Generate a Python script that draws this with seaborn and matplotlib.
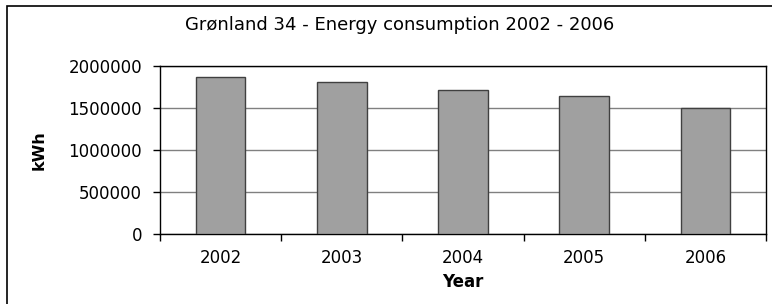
import matplotlib
matplotlib.use("Agg")
import matplotlib.pyplot as plt
import matplotlib.ticker as mtick
from matplotlib.patches import Rectangle
import seaborn as sns
import pandas as pd

years = ["2002", "2003", "2004", "2005", "2006"]
kwh = [1869000, 1806000, 1714000, 1646000, 1496000]
y_ticks = [0, 500000, 1000000, 1500000, 2000000]

sns.set_style("white")
plt.rcParams["font.family"] = ["DejaVu Sans"]
plt.rcParams["text.color"] = "black"
plt.rcParams["axes.labelcolor"] = "black"
plt.rcParams["xtick.color"] = "black"
plt.rcParams["ytick.color"] = "black"

df = pd.DataFrame({"Year": years, "kWh": kwh})

fig = plt.figure(figsize=(7.72, 3.04), dpi=100)
ax = fig.add_axes([160 / 772, 70 / 304, 606 / 772, 168 / 304])

sns.barplot(data=df, x="Year", y="kWh", color="#a0a0a0", width=0.41,
            edgecolor="#404040", linewidth=1.0, saturation=1, ax=ax, zorder=3)

ax.set_xlim(-0.5, 4.5)
ax.set_ylim(0, 2000000)
ax.set_yticks(y_ticks)
ax.yaxis.set_major_formatter(mtick.FuncFormatter(lambda v, p: f"{int(v)}"))
ax.yaxis.grid(True, color="#808080", linewidth=1.0, zorder=0)
ax.set_axisbelow(True)

ax.set_xticks(range(len(years)))
ax.set_xticklabels(years)
ax.set_xticks([i - 0.5 for i in range(len(years) + 1)], minor=True)
ax.tick_params(axis="x", which="major", length=0, pad=11, labelsize=12)
ax.tick_params(axis="x", which="minor", length=5, width=1, color="black", direction="out", bottom=True)
ax.tick_params(axis="y", length=5, width=1, color="black", direction="out", left=True,
               pad=8, labelsize=12)

for s in ax.spines.values():
    s.set_visible(True)
    s.set_color("black")
    s.set_linewidth(1.0)

ax.set_xlabel("Year", fontsize=12, fontweight="bold", labelpad=4)
ax.set_ylabel("kWh", fontsize=11.5, fontweight="bold")
ax.yaxis.set_label_coords(-113 / 606, 0.5)

fig.text(400 / 772, 1 - 25 / 304, "Grønland 34 - Energy consumption 2002 - 2006",
         ha="center", va="center", fontsize=13)

fig.patches.append(Rectangle((7 / 772, -0.2), 1.2, 1 - 6 / 304 + 0.2,
                             transform=fig.transFigure, fill=False,
                             edgecolor="black", linewidth=1.2))

fig.savefig("out.png", dpi=100)
